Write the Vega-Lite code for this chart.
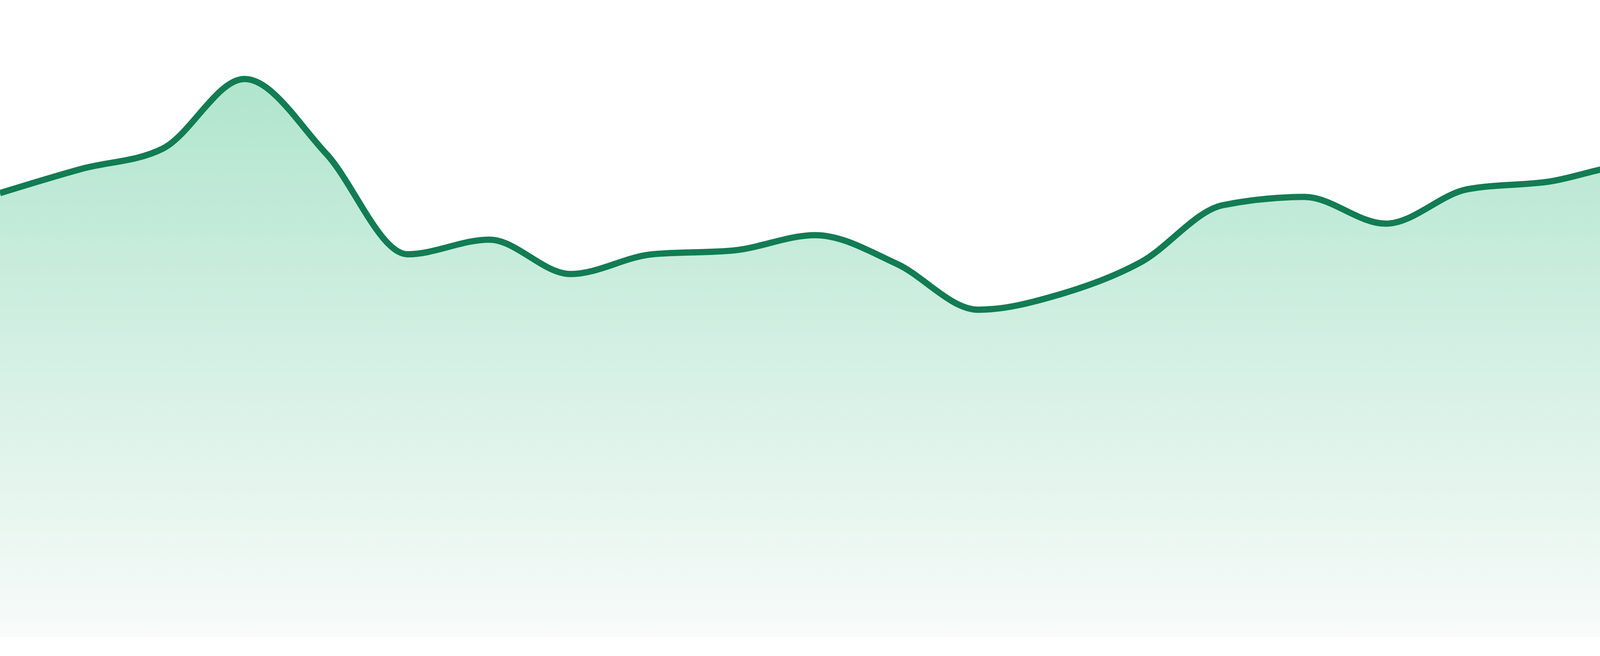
{
  "$schema": "https://vega.github.io/schema/vega-lite/v6.json",
  "width": 4800,
  "height": 1632,
  "autosize": "none",
  "padding": {"left": 0, "right": 0, "top": 0, "bottom": 48},
  "background": "#ffffff",
  "config": {"view": {"stroke": null}},
  "data": {
    "values": [
      {"step": 0, "value": 69.7},
      {"step": 1, "value": 73.5},
      {"step": 2, "value": 76.7},
      {"step": 3, "value": 87.6},
      {"step": 4, "value": 75.9},
      {"step": 5, "value": 60.1},
      {"step": 6, "value": 62.4},
      {"step": 7, "value": 57.0},
      {"step": 8, "value": 60.1},
      {"step": 9, "value": 60.7},
      {"step": 10, "value": 63.1},
      {"step": 11, "value": 58.6},
      {"step": 12, "value": 51.4},
      {"step": 13, "value": 53.8},
      {"step": 14, "value": 58.9},
      {"step": 15, "value": 67.8},
      {"step": 16, "value": 69.1},
      {"step": 17, "value": 64.9},
      {"step": 18, "value": 70.3},
      {"step": 19, "value": 71.5},
      {"step": 20, "value": 74.0},
      {"step": 21, "value": 68.0},
      {"step": 22, "value": 69.5},
      {"step": 23, "value": 69.0}
    ]
  },
  "encoding": {
    "x": {
      "field": "step",
      "type": "quantitative",
      "scale": {"domain": [0, 23], "nice": false, "zero": false},
      "axis": null
    },
    "y": {
      "field": "value",
      "type": "quantitative",
      "scale": {"domain": [0, 100], "nice": false},
      "axis": null
    }
  },
  "layer": [
    {
      "mark": {
        "type": "area",
        "interpolate": "monotone",
        "color": {
          "gradient": "linear",
          "x1": 0,
          "y1": 0,
          "x2": 0,
          "y2": 1,
          "stops": [
            {"offset": 0, "color": "#b0e5cd"},
            {"offset": 1, "color": "#f8fbfa"}
          ]
        }
      }
    },
    {
      "mark": {
        "type": "line",
        "interpolate": "monotone",
        "color": "#127c53",
        "strokeWidth": 16
      }
    }
  ]
}
